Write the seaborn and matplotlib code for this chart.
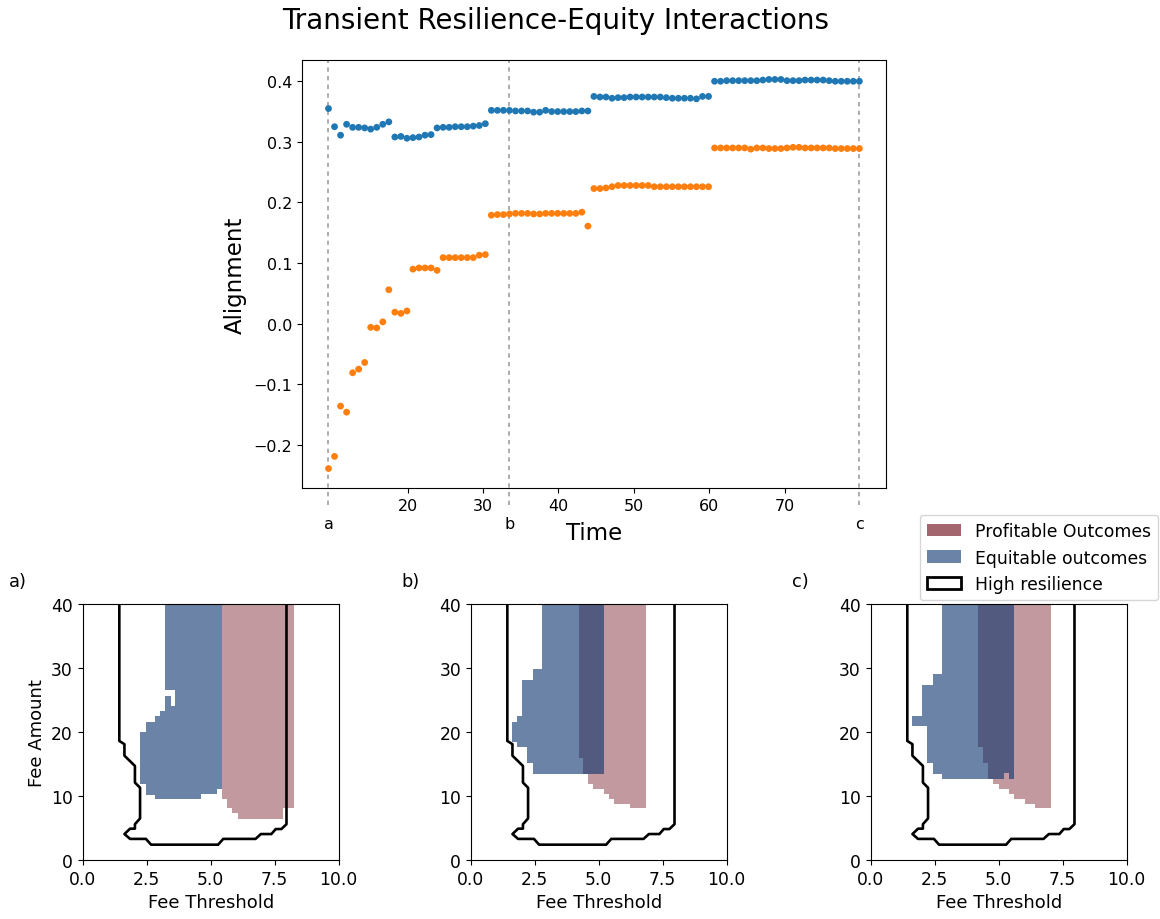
import numpy as np
import pandas as pd
import matplotlib
matplotlib.use("Agg")
import matplotlib.pyplot as plt
from matplotlib.patches import Patch
import seaborn as sns

# ---------------- data: top panel ----------------
time = np.arange(9.5, 80.0, 0.8)          # 89 evenly spaced time steps
events = [9.5, 33.5, 79.9]
event_labels = ["a", "b", "c"]

resilience_align = [
    0.355, 0.325, 0.311, 0.329, 0.324, 0.324, 0.323, 0.321, 0.324, 0.329, 0.333,
    0.308, 0.309, 0.306, 0.307, 0.308, 0.311, 0.312, 0.323, 0.324, 0.324, 0.325,
    0.325, 0.325, 0.326, 0.327, 0.330,
    0.352, 0.352, 0.352, 0.352, 0.351, 0.351, 0.351, 0.349, 0.349, 0.352, 0.350,
    0.350, 0.350, 0.350, 0.350, 0.351, 0.351,
    0.375, 0.374, 0.374, 0.372, 0.373, 0.373, 0.374, 0.374, 0.374, 0.374, 0.374,
    0.374, 0.373, 0.372, 0.372, 0.372, 0.372, 0.371, 0.375, 0.375,
    0.400, 0.400, 0.401, 0.401, 0.401, 0.401, 0.401, 0.401, 0.402, 0.403, 0.403,
    0.403, 0.401, 0.401, 0.401, 0.402, 0.402, 0.402, 0.402, 0.401, 0.400, 0.400,
    0.400, 0.400, 0.400,
]
equity_align = [
    -0.239, -0.219, -0.136, -0.146, -0.081, -0.075, -0.064, -0.006, -0.007, 0.003,
    0.056, 0.019, 0.017, 0.021, 0.090, 0.092, 0.092, 0.092, 0.088, 0.109, 0.109,
    0.109, 0.109, 0.109, 0.109, 0.113, 0.114,
    0.179, 0.180, 0.180, 0.181, 0.182, 0.182, 0.182, 0.181, 0.181, 0.182, 0.182,
    0.182, 0.182, 0.182, 0.182, 0.184, 0.161,
    0.223, 0.223, 0.224, 0.226, 0.228, 0.228, 0.228, 0.228, 0.228, 0.228, 0.226,
    0.226, 0.226, 0.226, 0.226, 0.226, 0.226, 0.226, 0.226, 0.226,
    0.290, 0.290, 0.290, 0.290, 0.290, 0.290, 0.288, 0.290, 0.290, 0.289, 0.289,
    0.289, 0.290, 0.291, 0.291, 0.290, 0.290, 0.290, 0.290, 0.290, 0.289, 0.289,
    0.289, 0.289, 0.289,
]
series_names = ["Resilience", "Equity"]
series_colors = ["#1f77b4", "#ff7f0e"]

# ---------------- data: bottom panels (region boundaries) ----------------
resilience_x = [1.43, 1.43, 1.63, 1.63, 2.04, 2.04, 2.24, 2.24, 2.04, 2.04, 1.85,
                1.63, 1.85, 2.47, 2.67, 5.29, 5.49, 6.75, 6.96, 7.37, 7.54, 7.76,
                7.96, 7.96]
resilience_y = [40.0, 18.6, 18.1, 16.3, 14.7, 12.1, 11.3, 6.5, 5.6, 4.9, 4.9,
                4.06, 3.3, 3.3, 2.4, 2.4, 3.3, 3.3, 4.06, 4.06, 4.84, 4.84,
                5.6, 40.0]

equit_a_x = [3.21, 5.45, 5.45, 5.23, 5.23, 4.64, 4.64, 2.82, 2.82, 2.46, 2.46,
             2.24, 2.24, 2.46, 2.46, 2.82, 2.82, 3.02, 3.02, 3.21, 3.21, 3.43,
             3.43, 3.60, 3.60, 3.21]
equit_a_y = [40.0, 40.0, 11.1, 11.1, 10.25, 10.25, 9.6, 9.6, 10.1, 10.1, 11.9,
             11.9, 20.0, 20.0, 21.6, 21.6, 22.5, 22.5, 23.3, 23.3, 25.7, 25.7,
             24.1, 24.1, 26.6, 26.6]
profit_a_x = [5.45, 8.26, 8.26, 7.83, 7.83, 6.05, 6.05, 5.85, 5.85, 5.64, 5.64, 5.45]
profit_a_y = [40.0, 40.0, 8.06, 8.06, 6.4, 6.4, 7.3, 7.3, 8.06, 8.06, 9.6, 9.6]

equit_b_x = [2.77, 5.21, 5.21, 2.42, 2.42, 2.21, 2.21, 1.80, 1.80, 1.60, 1.60,
             1.80, 1.80, 2.02, 2.02, 2.42, 2.42, 2.77]
equit_b_y = [40.0, 40.0, 13.5, 13.5, 15.1, 15.1, 17.6, 17.6, 18.4, 18.4, 21.6,
             21.6, 22.5, 22.5, 28.1, 28.1, 29.8, 29.8]
profit_b_x = [4.21, 6.85, 6.85, 6.22, 6.22, 5.61, 5.61, 5.40, 5.40, 5.21, 5.21,
              4.79, 4.79, 4.60, 4.60, 4.40, 4.40, 4.21]
profit_b_y = [40.0, 40.0, 8.06, 8.06, 8.7, 8.7, 9.5, 9.5, 10.25, 10.25, 11.1,
              11.1, 11.9, 11.9, 13.5, 13.5, 15.9, 15.9]

equit_c_x = [2.77, 5.61, 5.61, 5.40, 5.40, 5.21, 5.21, 2.77, 2.77, 2.42, 2.42,
             2.21, 2.21, 1.60, 1.60, 2.02, 2.02, 2.42, 2.42, 2.77]
equit_c_y = [40.0, 40.0, 12.7, 12.7, 13.55, 13.55, 12.7, 12.7, 13.45, 13.45, 15.1,
             15.1, 20.9, 20.9, 22.5, 22.5, 27.4, 27.4, 29.1, 29.1]
profit_c_x = [4.21, 7.04, 7.04, 6.42, 6.42, 6.03, 6.03, 5.61, 5.61, 5.40, 5.40,
              5.00, 5.00, 4.79, 4.79, 4.60, 4.60, 4.40, 4.40, 4.21]
profit_c_y = [40.0, 40.0, 8.06, 8.06, 8.7, 8.7, 9.5, 9.5, 10.3, 10.3, 11.1,
              11.1, 11.9, 11.9, 12.7, 12.7, 15.1, 15.1, 17.6, 17.6]

panel_labels = ["a)", "b)", "c)"]
legend_labels = ["Profitable Outcomes", "Equitable outcomes", "High resilience"]
profit_color = "#67000d"
equit_color = "#08306b"

# ---------------- style ----------------
sns.set_theme(style="ticks", rc={
    "axes.linewidth": 0.8, "axes.edgecolor": "black",
    "xtick.major.size": 3.5, "ytick.major.size": 3.5,
    "xtick.major.width": 0.8, "ytick.major.width": 0.8,
    "xtick.color": "black", "ytick.color": "black",
    "text.color": "black", "axes.labelcolor": "black",
    "xtick.direction": "out", "ytick.direction": "out",
})
plt.rcParams["font.family"] = ["DejaVu Sans"]

fig = plt.figure(figsize=(11.6, 9.2), dpi=100)

# ---------------- top panel ----------------
ax = fig.add_axes([0.2603, 0.4685, 0.5034, 0.4652])
df = pd.DataFrame({
    "Time": np.concatenate([time, time]),
    "Alignment": np.concatenate([resilience_align, equity_align]),
    "Series": [series_names[0]] * len(time) + [series_names[1]] * len(time),
})
sns.scatterplot(data=df, x="Time", y="Alignment", hue="Series",
                palette=series_colors, s=24, linewidth=0, legend=False,
                ax=ax, zorder=3)
for ev in events:
    ax.axvline(ev, ymin=-0.04, ymax=1, color="0.62", lw=1.2,
               linestyle=(0, (2.6, 2.6)), clip_on=False, zorder=1)
ax.set_xticks([20, 30, 40, 50, 60, 70])
ax.set_xticks(events, minor=True)
ax.set_xticklabels(event_labels, minor=True)
ax.set_yticks([-0.2, -0.1, 0.0, 0.1, 0.2, 0.3, 0.4])
ax.tick_params(axis="both", which="major", labelsize=11.5)
ax.tick_params(axis="x", which="minor", length=0, pad=20.5, labelsize=11.5)
ax.set_xlabel("Time", fontsize=16.5)
ax.set_ylabel("Alignment", fontsize=16.5)
ax.xaxis.set_label_coords(0.5, -0.078)
ax.yaxis.set_label_coords(-0.095, 0.5)
fig.text(0.479, 0.977, "Transient Resilience-Equity Interactions",
         ha="center", va="center", fontsize=20)

# ---------------- bottom panels ----------------
panels = [
    (0.0713, equit_a_x, equit_a_y, profit_a_x, profit_a_y, 9),
    (0.4058, equit_b_x, equit_b_y, profit_b_x, profit_b_y, 401),
    (0.7506, equit_c_x, equit_c_y, profit_c_x, profit_c_y, 792),
]
for i, (left, ex, ey, px, py, lab_x) in enumerate(panels):
    bx = fig.add_axes([left, 0.0641, 0.2207, 0.2783])
    bx.fill(px, py, color=profit_color, alpha=0.4, lw=0, zorder=1)
    bx.fill(ex, ey, color=equit_color, alpha=0.6, lw=0, zorder=2)
    bx.plot(resilience_x, resilience_y, color="black", lw=1.9, zorder=3)
    bx.set_xlim(0, 10)
    bx.set_ylim(0, 40)
    bx.set_xticks([0, 2.5, 5, 7.5, 10])
    bx.set_xticklabels(["0.0", "2.5", "5.0", "7.5", "10.0"])
    bx.set_yticks([0, 10, 20, 30, 40])
    bx.tick_params(labelsize=12.3)
    bx.set_xlabel("Fee Threshold", fontsize=13)
    if i == 0:
        bx.set_ylabel("Fee Amount", fontsize=13)
    fig.text(lab_x / 1160, 1 - 582 / 920, panel_labels[i],
             ha="left", va="center", fontsize=12.8)

handles = [
    Patch(facecolor=profit_color, alpha=0.6, edgecolor="none"),
    Patch(facecolor=equit_color, alpha=0.6, edgecolor="none"),
    Patch(facecolor="white", edgecolor="black", linewidth=2),
]
fig.legend(handles, legend_labels, loc="upper left",
           bbox_to_anchor=(920 / 1160, 1 - 516 / 920), fontsize=12.4,
           frameon=True, borderaxespad=0.0)

fig.savefig("out.png", dpi=100)
